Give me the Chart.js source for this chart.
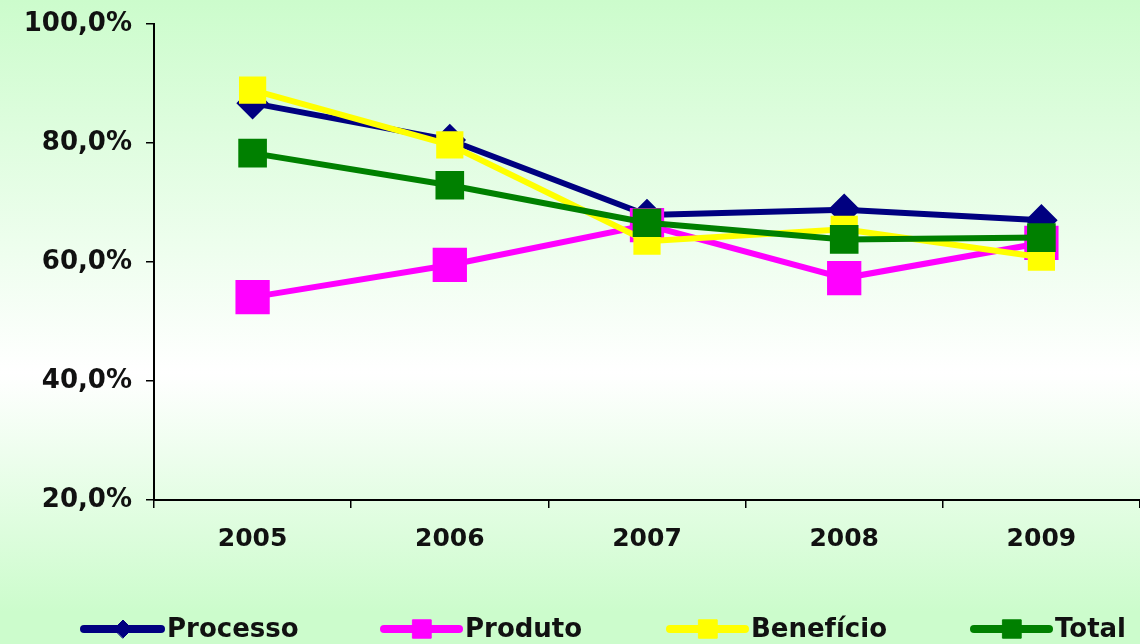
<!DOCTYPE html>
<html>
<head>
<meta charset="utf-8">
<script src="https://cdn.jsdelivr.net/npm/chart.js@4"></script>
<style>
  html, body { margin: 0; padding: 0; }
  #wrap { width: 1140px; height: 644px; position: relative; }
</style>
</head>
<body>
<div id="wrap"><canvas id="grafico"></canvas></div>
<script>
// Dados
const anos = ['2005', '2006', '2007', '2008', '2009'];
const processo = [86.7, 80.5, 67.9, 68.8, 67.0];
const produto = [54.1, 59.5, 66.2, 57.3, 63.2];
const beneficio = [88.9, 79.7, 63.5, 65.5, 60.8];
const total = [78.3, 72.9, 66.6, 63.8, 64.1];
const yTicks = [20, 40, 60, 80, 100];

const fonte = 'DejaVu Sans, Verdana, sans-serif';

// Fundo em degradê verde -> branco -> verde
const fundo = {
    id: 'fundo',
    beforeDraw(chart) {
        const ctx = chart.ctx;
        const g = ctx.createLinearGradient(0, 0, 0, chart.height);
        g.addColorStop(0, '#ccfccc');
        g.addColorStop(0.58, '#ffffff');
        g.addColorStop(0.95, '#ccfccc');
        g.addColorStop(1, '#ccfccc');
        ctx.save();
        ctx.fillStyle = g;
        ctx.fillRect(0, 0, chart.width, chart.height);
        ctx.restore();
    }
};

// Legenda desenhada à mão (linha + marcador pequeno + texto)
const legendaX = [[80, 166], [380, 464], [666, 750], [970, 1054]];
const legenda = {
    id: 'legenda',
    afterDraw(chart) {
        const ctx = chart.ctx;
        const y = 629;
        ctx.save();
        chart.data.datasets.forEach((ds, i) => {
            const [x0, xt] = legendaX[i];
            ctx.strokeStyle = ds.borderColor;
            ctx.lineWidth = 8;
            ctx.lineCap = 'round';
            ctx.beginPath();
            ctx.moveTo(x0 + 4, y);
            ctx.lineTo(xt - 5, y);
            ctx.stroke();
            ctx.fillStyle = ds.pointBackgroundColor;
            ctx.strokeStyle = ds.pointBackgroundColor;
            ctx.lineWidth = 1;
            Chart.helpers.drawPoint(ctx, {
                pointStyle: ds.pointStyle,
                radius: ds.pointStyle === 'rectRot' ? 9 : 13,
                rotation: 0,
                borderWidth: 1
            }, (x0 + xt) / 2, y);
            ctx.fillStyle = '#111';
            ctx.font = 'bold 26px ' + fonte;
            ctx.textBaseline = 'middle';
            ctx.fillText(ds.label, xt + 1, y + 1);
        });
        ctx.restore();
    }
};

new Chart(document.getElementById('grafico'), {
    type: 'line',
    data: {
        labels: anos,
        datasets: [
            {
                label: 'Processo', data: processo, order: 4,
                borderColor: '#000080', pointBackgroundColor: '#000080', pointBorderColor: '#000080',
                pointStyle: 'rectRot', pointRadius: 12, borderWidth: 6
            },
            {
                label: 'Produto', data: produto, order: 3,
                borderColor: '#ff00ff', pointBackgroundColor: '#ff00ff', pointBorderColor: '#ff00ff',
                pointStyle: 'rect', pointRadius: 20, borderWidth: 6
            },
            {
                label: 'Benefício', data: beneficio, order: 2,
                borderColor: '#ffff00', pointBackgroundColor: '#ffff00', pointBorderColor: '#ffff00',
                pointStyle: 'rect', pointRadius: 15, borderWidth: 6
            },
            {
                label: 'Total', data: total, order: 1,
                borderColor: '#008000', pointBackgroundColor: '#008000', pointBorderColor: '#008000',
                pointStyle: 'rect', pointRadius: 16, borderWidth: 6
            }
        ]
    },
    options: {
        responsive: true,
        maintainAspectRatio: false,
        animation: false,
        layout: { autoPadding: false, padding: { top: 24, right: 0, left: 0, bottom: 0 } },
        elements: {
            line: { tension: 0 },
            point: { borderWidth: 1, hoverRadius: 12 }
        },
        plugins: {
            legend: { display: false },
            tooltip: { enabled: false }
        },
        scales: {
            x: {
                offset: true,
                grid: {
                    offset: true,
                    drawOnChartArea: false,
                    drawTicks: true,
                    tickLength: 8,
                    color: '#000',
                    lineWidth: 1.5
                },
                border: { color: '#000', width: 2 },
                ticks: {
                    color: '#111',
                    padding: 16,
                    maxRotation: 0,
                    font: { family: fonte, size: 25, weight: 'bold' }
                },
                afterFit(scale) {
                    scale.height = 144;
                    scale.paddingLeft = 0;
                    scale.paddingRight = 0;
                }
            },
            y: {
                min: 20,
                max: 100,
                afterBuildTicks(scale) { scale.ticks = yTicks.map(v => ({ value: v })); },
                grid: {
                    drawOnChartArea: false,
                    drawTicks: true,
                    tickLength: 8,
                    color: '#000',
                    lineWidth: 1.5
                },
                border: { color: '#000', width: 2 },
                ticks: {
                    color: '#111',
                    padding: 14,
                    font: { family: fonte, size: 26, weight: 'bold' },
                    callback: v => v.toFixed(1).replace('.', ',') + '%'
                },
                afterFit(scale) {
                    scale.width = 154;
                    scale.paddingTop = 0;
                    scale.paddingBottom = 0;
                }
            }
        }
    },
    plugins: [fundo, legenda]
});
</script>
</body>
</html>
